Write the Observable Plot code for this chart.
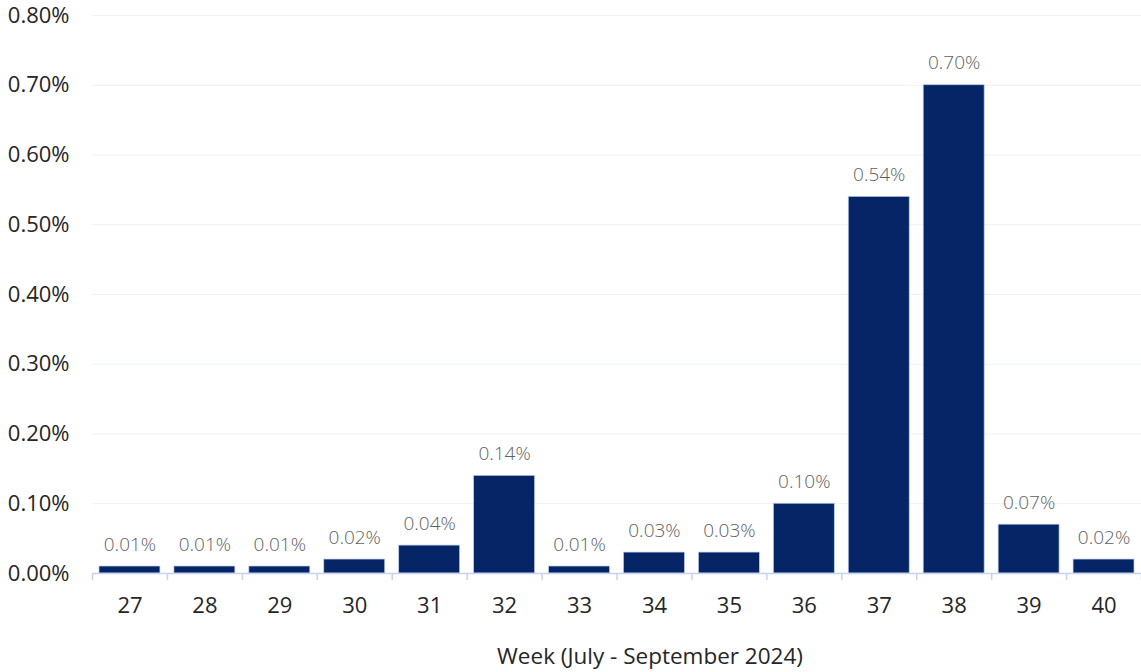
<!DOCTYPE html>
<html>
<head>
<meta charset="utf-8">
<script src="https://cdn.jsdelivr.net/npm/d3@7"></script>
<script src="https://cdn.jsdelivr.net/npm/@observablehq/plot@0.6"></script>
<style>
  html, body { margin: 0; padding: 0; background: #fff; }
  #chart svg { display: block; }
</style>
</head>
<body>
<div id="chart"></div>
<script>
const weeks = [27, 28, 29, 30, 31, 32, 33, 34, 35, 36, 37, 38, 39, 40];
const rates = [0.01, 0.01, 0.01, 0.02, 0.04, 0.14, 0.01, 0.03, 0.03, 0.10, 0.54, 0.70, 0.07, 0.02];
const yTicks = [0, 0.1, 0.2, 0.3, 0.4, 0.5, 0.6, 0.7, 0.8];
const xTitle = "Week (July - September 2024)";

const data = weeks.map((w, i) => ({week: w, rate: rates[i]}));
const boundaries = weeks.map(w => w - 0.5).concat([weeks[weeks.length - 1] + 0.5]);
const fmt = d => d.toFixed(2) + "%";
const font = "'Open Sans', 'Noto Sans', sans-serif";

const chart = Plot.plot({
  width: 1141,
  height: 672,
  marginLeft: 92,
  marginRight: 0,
  marginTop: 15,
  marginBottom: 99,
  style: {fontFamily: font, background: "#fff"},
  x: {type: "linear", domain: [weeks[0] - 0.5, weeks[weeks.length - 1] + 0.5]},
  y: {domain: [0, 0.8]},
  marks: [
    Plot.ruleY(yTicks.filter(d => d > 0), {stroke: "#eef1f6", strokeWidth: 1.2}),
    Plot.rectY(data, {x1: d => d.week - 0.5, x2: d => d.week + 0.5, y: "rate", fill: "#062566", stroke: "#b9c9ea", strokeWidth: 0.7, insetLeft: 7, insetRight: 7}),
    Plot.ruleY([0], {stroke: "#c5d3ef", strokeWidth: 1.5}),
    Plot.axisX({ticks: boundaries, tickFormat: () => "", tickSize: 7, stroke: "#c5d3ef", strokeWidth: 1.5, label: null}),
    Plot.axisX({ticks: weeks, tickFormat: d => String(d), tickSize: 0, tickPadding: 24, fontSize: 22, fill: "#262626", label: null}),
    Plot.axisY({ticks: yTicks, tickFormat: fmt, tickSize: 0, tickPadding: 23, fontSize: 22, fill: "#262626", label: null}),
    Plot.text(data, {x: "week", y: "rate", text: d => fmt(d.rate), dy: -22, fontSize: 19, fill: "#5f5f5f", fontWeight: 300, lineAnchor: "middle"}),
    Plot.text([xTitle], {frameAnchor: "bottom", text: d => d, dy: 83, dx: 33, fontSize: 22.5, fill: "#262626", lineAnchor: "middle"})
  ]
});
document.getElementById("chart").appendChild(chart);
</script>
</body>
</html>
